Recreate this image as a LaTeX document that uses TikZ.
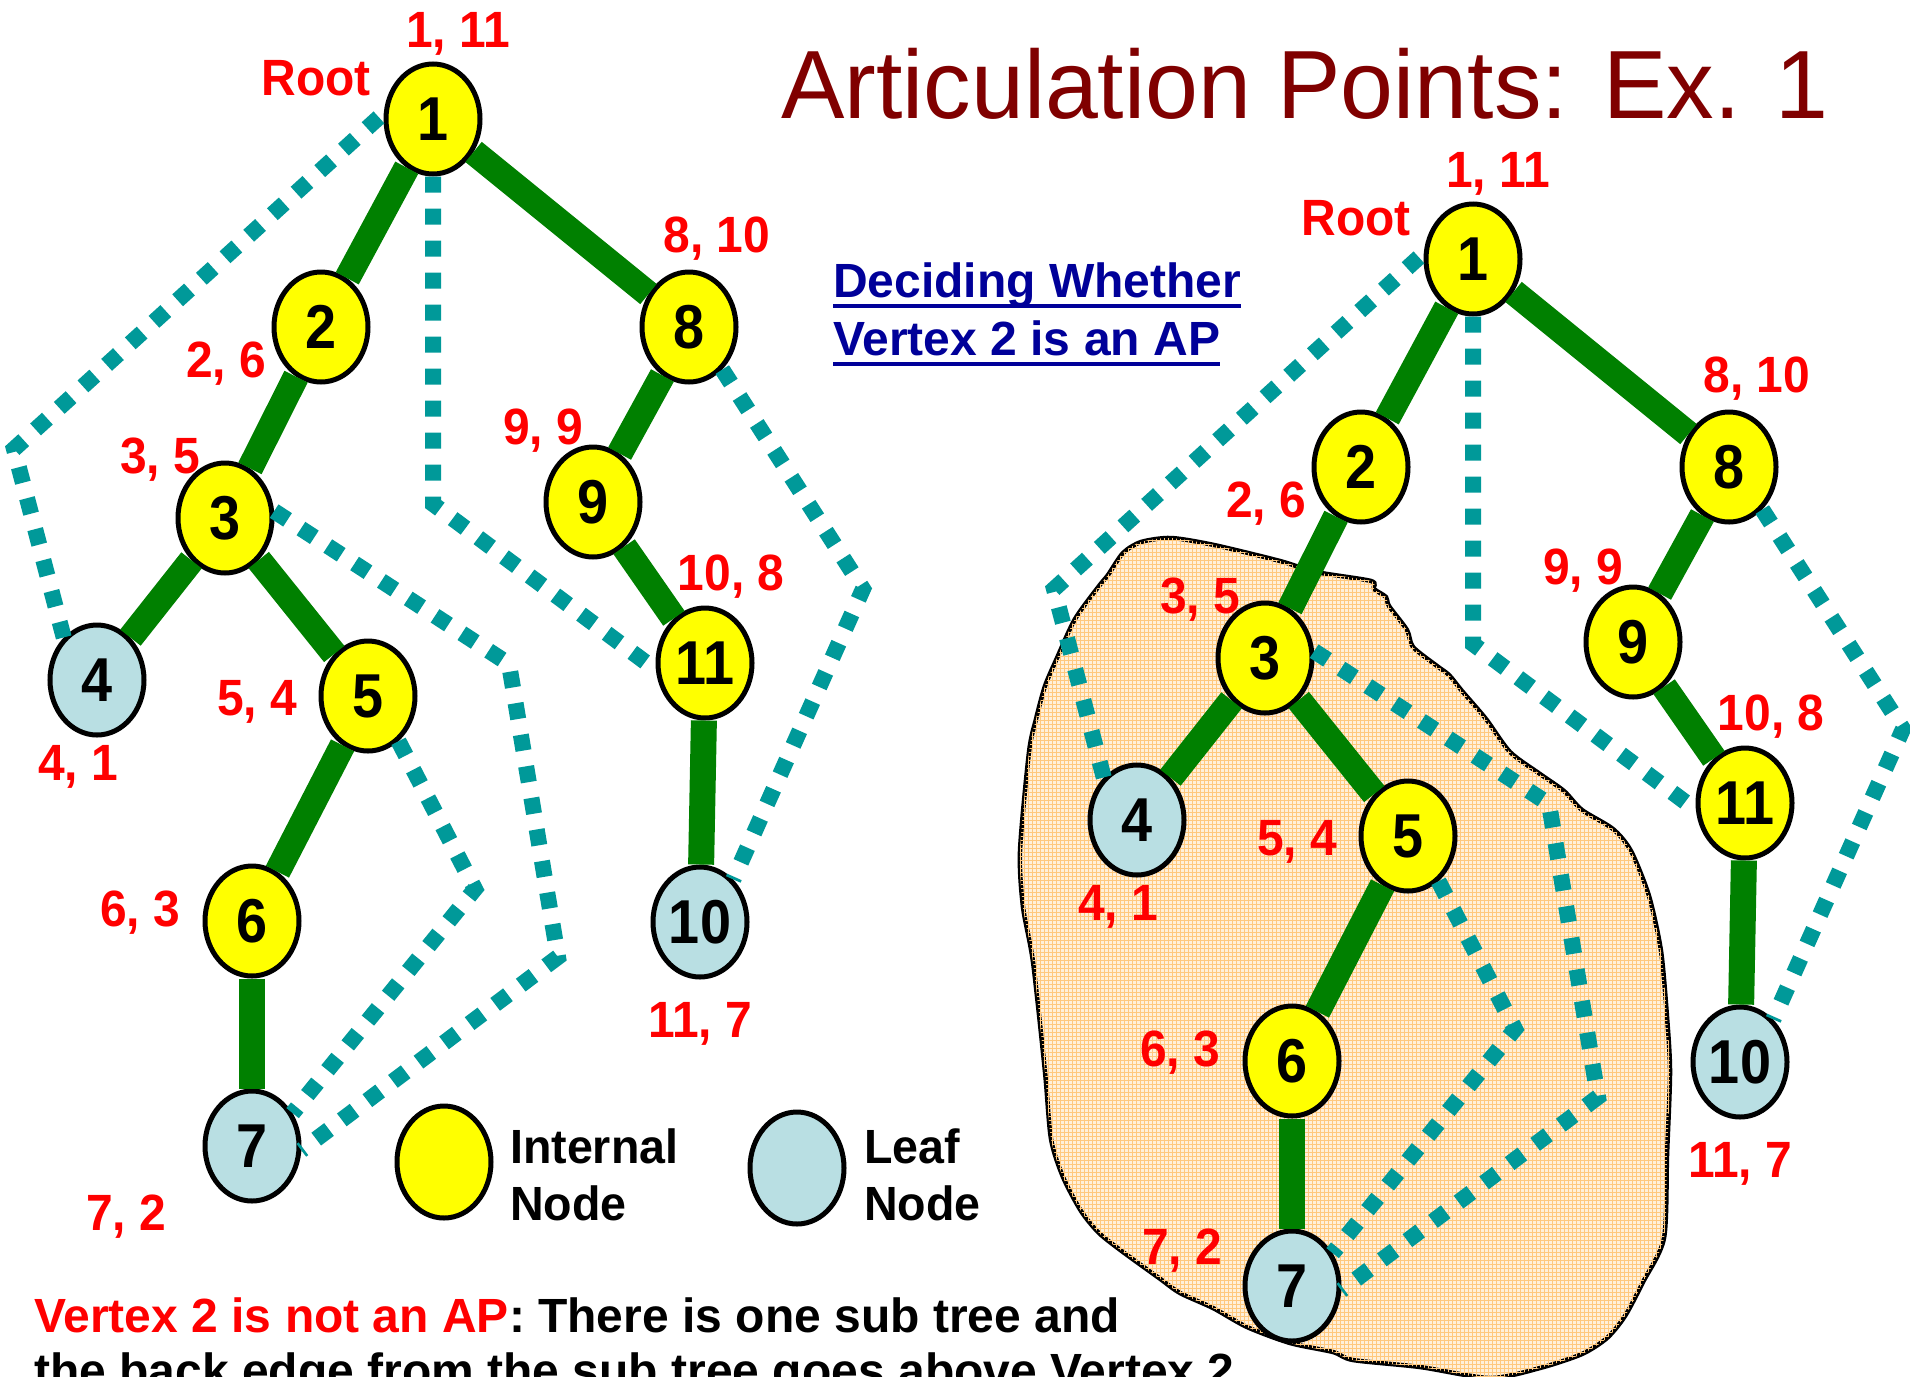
\documentclass[tikz,border=0pt]{standalone}
\usepackage{fontspec}
\setmainfont{Liberation Sans}
\usetikzlibrary{shapes.geometric,calc,patterns}
\definecolor{nodeyellow}{RGB}{255,255,0}
\definecolor{leafblue}{RGB}{185,223,227}
\definecolor{treegreen}{RGB}{0,128,0}
\definecolor{backteal}{RGB}{0,153,153}
\definecolor{titlered}{RGB}{128,0,0}
\definecolor{headblue}{RGB}{0,0,153}
\definecolor{blobfill}{RGB}{255,240,218}
\definecolor{blobgridcol}{RGB}{255,200,125}
\pgfdeclarepatternformonly{blobgrid}{\pgfqpoint{-1pt}{-1pt}}{\pgfqpoint{5pt}{5pt}}{\pgfqpoint{4pt}{4pt}}{%
  \pgfsetlinewidth{0.8pt}%
  \pgfpathmoveto{\pgfqpoint{0pt}{0pt}}\pgfpathlineto{\pgfqpoint{4.1pt}{0pt}}%
  \pgfpathmoveto{\pgfqpoint{0pt}{0pt}}\pgfpathlineto{\pgfqpoint{0pt}{4.1pt}}%
  \pgfusepath{stroke}}
\tikzset{
  vtx/.style={ellipse, draw=black, line width=5pt, minimum width=94pt, minimum height=110pt,
    inner sep=0pt, font=\fontsize{62}{66}\selectfont\bfseries\addfontfeatures{FakeStretch=0.9}},
  internal/.style={vtx, fill=nodeyellow},
  leaf/.style={vtx, fill=leafblue},
  treeedge/.style={draw=treegreen, line width=26pt},
  backedge/.style={draw=backteal, line width=16pt, dash pattern=on 16pt off 16pt},
  lbl/.style={text=red, font=\fontsize{51}{55}\selectfont\bfseries\addfontfeatures{FakeStretch=0.94}, anchor=base, inner sep=0pt},
  heading/.style={text=headblue, font=\fontsize{48}{52}\selectfont\bfseries, anchor=base west, inner sep=0pt},
  legendtxt/.style={font=\fontsize{48}{52}\selectfont\bfseries\addfontfeatures{FakeStretch=0.97}, anchor=base west, inner sep=0pt},
  bottomtxt/.style={font=\fontsize{48}{52}\selectfont\bfseries, anchor=base west, inner sep=0pt},
}
\newcommand\drawtree[1]{%
  \node[internal] (#1n1) at (433,119) {1};
  \node[internal] (#1n2) at (321,327) {2};
  \node[internal] (#1n8) at (689,327) {8};
  \node[internal] (#1n3) at (225,518) {3};
  \node[internal] (#1n9) at (593,502) {9};
  \node[internal] (#1n11) at (705,663) {11};
  \node[leaf] (#1n4) at (97,680) {4};
  \node[internal] (#1n5) at (368,696) {5};
  \node[internal] (#1n6) at (252,921) {6};
  \node[leaf] (#1n10) at (700,922) {10};
  \node[leaf] (#1n7) at (252,1146) {7};
  \draw[treeedge] (#1n1) -- (#1n2);
  \draw[treeedge] (#1n1) -- (#1n8);
  \draw[treeedge] (#1n2) -- (#1n3);
  \draw[treeedge] (#1n3) -- (#1n4);
  \draw[treeedge] (#1n3) -- (#1n5);
  \draw[treeedge] (#1n5) -- (#1n6);
  \draw[treeedge] (#1n6) -- (#1n7);
  \draw[treeedge] (#1n8) -- (#1n9);
  \draw[treeedge] (#1n9) -- (#1n11);
  \draw[treeedge] (#1n11) -- (#1n10);
  \coordinate (#1c41) at (14,449);
  \coordinate (#1c111) at (433,504);
  \coordinate (#1c108) at (863,589);
  \coordinate (#1c73a) at (509,664);
  \coordinate (#1c73b) at (558,957);
  \coordinate (#1c75) at (475,889);
  \draw[backedge] (#1n4.128) -- (#1c41) -- (#1n1.173);
  \draw[backedge] (#1n1.south) -- (#1c111) -- (#1n11.188);
  \draw[backedge] (#1n8.-52) -- (#1c108) -- (#1n10.52);
  \draw[backedge] (#1n3.8) -- (#1c73a) -- (#1c73b) -- (#1n7.-5);
  \draw[backedge] (#1n5.-56) -- (#1c75) -- (#1n7.39);
  \node[lbl] (#1l1) at (458,47) {1, 11};
  \node[lbl] (#1lroot) at (316,95) {Root};
  \node[lbl] (#1l8) at (717,252) {8, 10};
  \node[lbl] (#1l2) at (226,377) {2, 6};
  \node[lbl] (#1l3) at (160,473) {3, 5};
  \node[lbl] (#1l9) at (543,444) {9, 9};
  \node[lbl] (#1l11) at (731,590) {10, 8};
  \node[lbl] (#1l5) at (257,715) {5, 4};
  \node[lbl] (#1l4) at (78,780) {4, 1};
  \node[lbl] (#1l6) at (140,926) {6, 3};
  \node[lbl] (#1l10) at (700,1037) {11, 7};
}
\begin{document}
\begin{tikzpicture}[x=1pt,y=-1pt]
\useasboundingbox (0,0) rectangle (1910,1376);
\clip (0,0) rectangle (1910,1376);
\fill[white] (0,0) rectangle (1910,1376);
% title
\node[anchor=base, text=titlered, font=\fontsize{97}{100}\selectfont\addfontfeatures{FakeStretch=0.98}, inner sep=0pt] (title) at (1305,118) {Articulation Points: Ex. 1};
% heading
\node[heading] (h1) at (833,297) {Deciding Whether};
\node[heading] (h2) at (833,355) {Vertex 2 is an AP};
\draw[headblue, line width=4pt] ($(h1.base west)+(0,9)$) -- ($(h1.base east)+(0,9)$);
\draw[headblue, line width=4pt] ($(h2.base west)+(0,9)$) -- ($(h2.base east)+(0,9)$);
% left tree
\drawtree{L}
\node[lbl] (Ll7) at (126,1230) {7, 2};
% blob
\path[draw=black, line width=4.5pt, fill=blobfill, postaction={pattern=blobgrid, pattern color=blobgridcol}]
  plot[smooth cycle, tension=0.45] coordinates {
  (1108,575) (1123,553) (1141,542) (1171,538) (1214,545) (1280,561) (1316,572) (1371,581)
  (1374,589) (1386,597) (1389,606) (1407,630) (1413,647) (1437,666) (1449,675) (1462,691)
  (1486,719) (1510,752) (1540,774) (1564,791) (1582,810) (1613,829) (1631,851) (1649,896)
  (1661,951) (1667,1017) (1670,1072) (1667,1155) (1664,1238) (1643,1282) (1625,1316)
  (1607,1338) (1582,1354) (1540,1368) (1490,1378) (1420,1367) (1353,1360) (1333,1352)
  (1290,1343) (1247,1327) (1213,1308) (1180,1293) (1159,1278) (1123,1252) (1099,1233)
  (1081,1211) (1063,1177) (1051,1139) (1045,1072) (1033,962) (1023,907) (1020,851)
  (1029,752) (1036,719) (1045,686) (1057,658) (1075,619) (1099,586)};
% right tree
\begin{scope}[shift={(1040,140)}]
\drawtree{R}
\end{scope}
\node[lbl] (Rl7) at (1182,1264) {7, 2};
% legend
\node[internal, minimum height=112pt] (legint) at (444,1162) {};
\node[legendtxt] (legintt1) at (510,1163) {Internal};
\node[legendtxt] (legintt2) at (510,1220) {Node};
\node[leaf, minimum height=112pt] (legleaf) at (797,1168) {};
\node[legendtxt] (legleaft1) at (864,1163) {Leaf};
\node[legendtxt] (legleaft2) at (864,1220) {Node};
% bottom text
\node[bottomtxt] (b1) at (34,1332) {\textcolor{red}{Vertex 2 is not an AP}: There is one sub tree and};
\node[bottomtxt] (b2) at (34,1387) {the back edge from the sub tree goes above Vertex 2};
\end{tikzpicture}
\end{document}
